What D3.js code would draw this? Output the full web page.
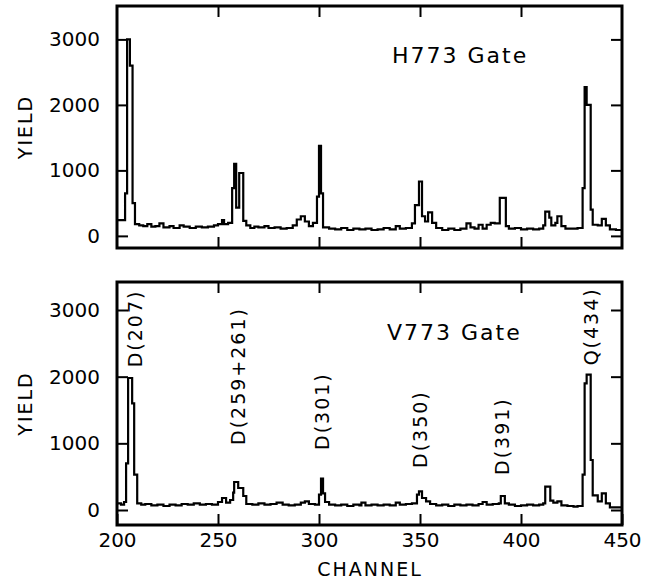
<!DOCTYPE html>
<html>
<head>
<meta charset="utf-8">
<script src="https://cdn.jsdelivr.net/npm/d3@7"></script>
<style>
  body { margin: 0; background: #fff; }
  text { font-family: "DejaVu Sans", sans-serif; fill: #000; }
</style>
</head>
<body>
<div id="chart"></div>
<script>
// Spectrum data: [channel, yield], drawn as a step histogram
var h773 = [
  [200, 240], [204, 650], [205, 3000], [206.4, 2600], [207.7, 500], [208.9, 180], [211, 160], [213, 150],
  [215, 180], [217, 140], [219, 150], [221, 190], [223, 130], [226, 150], [228, 120], [231, 160],
  [233, 140], [236, 120], [239, 140], [242, 130], [245, 140], [248, 160], [250, 180], [252, 240],
  [253, 180], [255, 200], [257, 730], [258, 1100], [259, 430], [260.5, 960], [262.5, 230], [264, 160],
  [266, 120], [268, 140], [270, 130], [273, 150], [275, 120], [278, 130], [281, 110], [284, 120],
  [287, 160], [289, 250], [291, 300], [293, 220], [295, 150], [297, 200], [299, 600], [300, 1375],
  [301, 650], [302, 130], [305, 110], [308, 100], [311, 120], [314, 90], [317, 110], [320, 100],
  [323, 110], [326, 90], [329, 100], [332, 120], [335, 100], [338, 150], [340, 110], [343, 120],
  [346, 190], [347.5, 470], [349.5, 830], [351, 300], [352.5, 220], [354, 360], [356, 200], [358, 120],
  [361, 90], [364, 110], [367, 90], [370, 110], [373, 190], [375, 130], [377, 110], [379, 170],
  [381, 110], [383, 170], [385, 200], [387, 190], [389.5, 580], [392.5, 150], [394, 110], [397, 120],
  [400, 100], [403, 110], [406, 100], [409, 110], [411, 160], [412, 370], [414, 280], [415, 160],
  [417, 200], [418, 300], [420, 150], [422, 110], [425, 110], [428, 120], [430.5, 730], [431.5, 2270],
  [432.5, 2000], [434.5, 400], [435.5, 170], [438, 160], [440, 260], [442, 160], [444, 100], [447, 90],
  [450, 110]
];

var v773 = [
  [200, 100], [202, 80], [203.5, 120], [204.5, 700], [205.5, 1980], [207.5, 1600], [208.5, 530], [210, 100],
  [212, 80], [214, 90], [217, 70], [220, 80], [223, 60], [226, 80], [229, 70], [232, 90],
  [235, 80], [238, 100], [241, 80], [244, 90], [247, 80], [250, 120], [252, 180], [254, 110],
  [256, 150], [257.5, 260], [258, 420], [260, 330], [262.5, 210], [264, 90], [267, 80], [270, 100],
  [273, 80], [276, 90], [279, 110], [282, 80], [285, 70], [288, 80], [291, 110], [293, 130],
  [295, 90], [298, 80], [300, 230], [301, 470], [302, 250], [303, 120], [305, 80], [308, 70],
  [311, 80], [314, 60], [317, 80], [320, 70], [321, 110], [323, 70], [326, 80], [329, 70],
  [332, 80], [335, 70], [338, 110], [340, 80], [343, 90], [346, 100], [348.5, 230], [349.5, 280],
  [351, 180], [353, 130], [355, 90], [358, 70], [361, 80], [364, 60], [367, 80], [370, 70],
  [373, 80], [376, 70], [379, 90], [381, 120], [383, 80], [386, 90], [389, 100], [390, 210],
  [392, 100], [394, 80], [397, 60], [400, 70], [403, 80], [406, 70], [409, 80], [411, 100],
  [412, 350], [414.5, 140], [416, 110], [418, 130], [420, 70], [423, 60], [426, 50], [428, 60],
  [430.5, 530], [431.5, 1900], [432.5, 2030], [434.5, 750], [435.5, 220], [438, 130], [440, 250], [442, 100],
  [444, 40], [447, 40], [450, 40]
];

// Peak labels in the lower panel
var peakLabels = ["D(207)", "D(259+261)", "D(301)", "D(350)", "D(391)", "Q(434)"];
var peakChannels = [209, 260, 301.5, 350, 391, 435];
var peakLabelYield = [2140, 975, 900, 630, 525, 2170];

var xTicks = [200, 250, 300, 350, 400, 450];
var yTicks = [0, 1000, 2000, 3000];

var svgWidth = 657;
var svgHeight = 581;

var svg = d3.select("#chart")
  .append("svg")
  .attr("width", svgWidth)
  .attr("height", svgHeight);

// shared channel scale
var xScale = d3.scaleLinear().domain([200, 450]).range([117, 622]);

function drawPanel(top, bottom, yDomain, data, title, titleX, titleY, id) {
  var yScale = d3.scaleLinear().domain(yDomain).range([bottom, top]);
  var g = svg.append("g");

  g.append("clipPath").attr("id", id)
    .append("rect")
    .attr("x", 117).attr("y", top)
    .attr("width", 505).attr("height", bottom - top);

  var line = d3.line()
    .x(d => xScale(d[0]))
    .y(d => yScale(d[1]))
    .curve(d3.curveStepAfter);

  g.append("path")
    .datum(data)
    .attr("clip-path", `url(#${id})`)
    .attr("fill", "none")
    .attr("stroke", "#000")
    .attr("stroke-width", 2.2)
    .attr("stroke-linejoin", "miter")
    .attr("d", line);

  // inward ticks on all four sides
  g.append("g").attr("class", "ax")
    .attr("transform", "translate(117,0)")
    .call(d3.axisLeft(yScale).tickValues(yTicks).tickSize(-11).tickPadding(17).tickFormat(d3.format("d")));
  g.append("g").attr("class", "ax")
    .attr("transform", "translate(622,0)")
    .call(d3.axisRight(yScale).tickValues(yTicks).tickSize(-11).tickFormat(""));
  g.append("g").attr("class", "ax")
    .attr("transform", `translate(0,${top})`)
    .call(d3.axisTop(xScale).tickValues(xTicks.slice(1, -1)).tickSize(-11).tickFormat(""));

  g.append("rect")
    .attr("x", 117).attr("y", top)
    .attr("width", 505).attr("height", bottom - top)
    .attr("fill", "none")
    .attr("stroke", "#000")
    .attr("stroke-width", 3);

  g.append("text")
    .attr("x", titleX).attr("y", titleY)
    .attr("font-size", 22)
    .attr("letter-spacing", "2px")
    .text(title);

  g.append("text")
    .attr("transform", `translate(32,${(top + bottom) / 2}) rotate(-90)`)
    .attr("text-anchor", "middle")
    .attr("font-size", 19)
    .attr("letter-spacing", "2px")
    .text("YIELD");

  return { g: g, yScale: yScale };
}

var topPanel = drawPanel(6, 248, [-185, 3510], h773, "H773 Gate", 392, 63, "clipTop");
topPanel.g.append("g").attr("class", "ax")
  .attr("transform", "translate(0,248)")
  .call(d3.axisBottom(xScale).tickValues(xTicks.slice(1, -1)).tickSize(-11).tickFormat(""));

var botPanel = drawPanel(282, 525, [-225, 3420], v773, "V773 Gate", 387, 340, "clipBot");
botPanel.g.append("g").attr("class", "ax axX")
  .attr("transform", "translate(0,525)")
  .call(d3.axisBottom(xScale).tickValues(xTicks).tickSize(-11).tickPadding(8).tickFormat(d3.format("d")));

svg.selectAll(".ax .domain").remove();
svg.selectAll(".ax line").attr("stroke", "#000").attr("stroke-width", 2);
svg.selectAll(".ax text")
  .attr("font-family", "DejaVu Sans")
  .attr("font-size", 20)
  .attr("fill", "#000");

// rotated peak labels
botPanel.g.selectAll(".peak")
  .data(peakLabels)
  .enter()
  .append("text")
  .attr("class", "peak")
  .attr("transform", (d, i) => `translate(${xScale(peakChannels[i])},${botPanel.yScale(peakLabelYield[i])}) rotate(-90)`)
  .attr("dy", "0.35em")
  .attr("font-size", 19)
  .attr("letter-spacing", "2px")
  .text(d => d);

svg.append("text")
  .attr("x", 370).attr("y", 576)
  .attr("text-anchor", "middle")
  .attr("font-size", 19)
  .attr("letter-spacing", "2px")
  .text("CHANNEL");
</script>
</body>
</html>
